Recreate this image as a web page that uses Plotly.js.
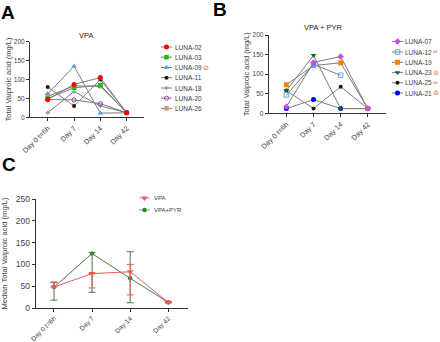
<!DOCTYPE html>
<html><head><meta charset="utf-8">
<script src="https://cdn.plot.ly/plotly-3.0.1.min.js"></script>
<style>html,body{margin:0;padding:0;background:#fff}#c{width:440px;height:342px}</style>
</head><body><div id="c"></div>
<script>
const days = ['Day 0 t=6h','Day 7','Day 14','Day 42'];
const FONT = '"Liberation Sans", Arial, sans-serif';
const W = 440, H = 342;

const namesA = ['LUNA-11','LUNA-18','LUNA-26','LUNA-20','LUNA-09','LUNA-03','LUNA-02'];
const luna11 = [80,30,100,12];
const luna18 = [12,68,30,12];
const luna26 = [55,83,82,12];
const luna20 = [47,46,36,12];
const luna09 = [62,135,11,12];
const luna03 = [50,78,85,12];
const luna02 = [47,87,105,12];

const luna21 = [12,35,12,12];
const luna25 = [58,12,68,12];
const luna23 = [58,148,12,12];
const luna19 = [73,122,129,12];
const luna12 = [47,125,97,null];
const luna07 = [17,130,145,12];

const vpaMedian = [48,79,83,13];
const vpaUp = [12,0,17,1];
const vpaDown = [0,33,53,1];
const pyrMedian = [48,125,68,13];
const pyrUp = [10,2,61,1];
const pyrDown = [30,89,56,1];

const legendA = ['LUNA-02','LUNA-03','LUNA-09','LUNA-11','LUNA-18','LUNA-20','LUNA-26'];
const legendB = ['LUNA-07','LUNA-12','LUNA-19','LUNA-23','LUNA-25','LUNA-21'];
const legendC = ['VPA','VPA+PYR'];

const styles = {
 'LUNA-02':{symbol:'circle',color:'#ff0000',size:5,lw:0},
 'LUNA-03':{symbol:'square',color:'#00c800',size:4.5,lw:0},
 'LUNA-09':{symbol:'triangle-up',color:'#4a9bf0',size:5,lw:0},
 'LUNA-11':{symbol:'circle',color:'#2a1505',size:4,lw:0},
 'LUNA-18':{symbol:'cross',color:'#9a9a9a',size:3.5,lw:0},
 'LUNA-20':{symbol:'hexagon-open',color:'#8e3fb0',size:4.5,lw:1},
 'LUNA-26':{symbol:'square',color:'#c8a070',size:4.5,lw:0},
 'LUNA-07':{symbol:'diamond',color:'#c050e0',size:5,lw:0},
 'LUNA-12':{symbol:'square-open',color:'#5aa5f5',size:4.5,lw:1},
 'LUNA-19':{symbol:'square',color:'#ff8000',size:5,lw:0},
 'LUNA-23':{symbol:'triangle-down',color:'#0a6a1a',size:5,lw:0},
 'LUNA-25':{symbol:'circle',color:'#1a1a00',size:4,lw:0},
 'LUNA-21':{symbol:'circle',color:'#0000ff',size:5,lw:0}
};
const GREY = '#7d7d7d';
function series(name, y, xa, ya){
  const s = styles[name];
  return {type:'scatter',mode:'lines+markers',name:name,x:days,y:y,xaxis:xa,yaxis:ya,showlegend:false,
    connectgaps:false,line:{color:GREY,width:1},
    marker:{symbol:s.symbol,color:s.color,size:s.size,line:{color:s.color,width:s.lw}}};
}
const traces = [];
[luna11,luna18,luna26,luna20,luna09,luna03,luna02].forEach((y,i)=>traces.push(series(namesA[i],y,'x','y')));
[['LUNA-21',luna21],['LUNA-25',luna25],['LUNA-23',luna23],['LUNA-19',luna19],['LUNA-12',luna12],['LUNA-07',luna07]]
  .forEach(p=>traces.push(series(p[0],p[1],'x2','y2')));

function med(name,y,up,down,color,symbol,size){
  return {type:'scatter',mode:'lines+markers',name:name,x:days,y:y,xaxis:'x3',yaxis:'y3',showlegend:false,
    line:{color:color,width:1},marker:{symbol:symbol,color:color,size:size},
    error_y:{type:'data',symmetric:false,array:up,arrayminus:down,color:color,thickness:1,width:3.5}};
}
const PYRC = '#4f7a45', VPAC = '#ee5a5a';
traces.push(med('VPA+PYR',pyrMedian,pyrUp,pyrDown,PYRC,'circle',4.5));
traces.push(med('VPA',vpaMedian,vpaUp,vpaDown,VPAC,'triangle-down',6));

const keyX = {A:[161,172],B:[392,403],C:[139,150]};
const rowA = [47,57.2,67.5,77.7,88,98.2,108.4];
const rowB = [41.5,52,62.3,72.6,82.8,93];
const rowC = [198,210];
const annotations = [];
function key(name,x0,x1,y,lineColor,mk,tx,fs){
  traces.push({type:'scatter',mode:'lines',x:[x0,x1],y:[y,y],xaxis:'x4',yaxis:'y4',showlegend:false,hoverinfo:'skip',
    line:{color:lineColor,width:1}});
  traces.push({type:'scatter',mode:'markers',x:[(x0+x1)/2],y:[y],xaxis:'x4',yaxis:'y4',showlegend:false,hoverinfo:'skip',marker:mk});
  annotations.push({xref:'x4',yref:'y4',x:tx,y:y,text:name,showarrow:false,xanchor:'left',yanchor:'middle',
    borderpad:0,font:{family:FONT,size:fs,color:'#3a3a3a'}});
}
function mk(n){const s=styles[n];return {symbol:s.symbol,color:s.color,size:s.size,line:{color:s.color,width:s.lw}};}
legendA.forEach((n,i)=>key(n,keyX.A[0],keyX.A[1],rowA[i],GREY,mk(n),174,6.5));
legendB.forEach((n,i)=>key(n,keyX.B[0],keyX.B[1],rowB[i],GREY,mk(n),404,6.5));
key(legendC[0],keyX.C[0],keyX.C[1],rowC[0],'#f28a8a',{symbol:'triangle-down',color:VPAC,size:6},153,6);
key(legendC[1],keyX.C[0],keyX.C[1],rowC[1],'#7fa878',{symbol:'circle',color:'#1f8a2a',size:4.5},153,6);

function note(x,y,text,color,size){
  annotations.push({xref:'x4',yref:'y4',x:x,y:y,text:text,showarrow:false,xanchor:'center',yanchor:'middle',
    borderpad:0,font:{family:'"DejaVu Sans",sans-serif',size:size,color:color}});
}
note(205.5,67.5,'⊘','#f06a3a',7);
note(436,72.6,'⊘','#f06a3a',7);
note(436,93,'⊘','#f06a3a',7);
note(436,52,'NS','#f04a5a',3.5);
note(436,82.8,'NS','#f04a5a',3.5);

function label(x,y,text,size,bold,color){
  annotations.push({xref:'x4',yref:'y4',x:x,y:y,text:bold?'<b>'+text+'</b>':text,showarrow:false,xanchor:'center',yanchor:'middle',
    font:{family:FONT,size:size,color:color}});
}
label(8,12,'A',19,true,'#000');
label(220,9,'B',19,true,'#000');
label(9,164.5,'C',19,true,'#000');
label(85.5,35.5,'VPA',7.5,false,'#222');
label(323,27,'VPA + PYR',7.5,false,'#222');

function xa(l,r,lo,hi,anchor,tf){
  return {type:'category',categoryorder:'array',categoryarray:days,domain:[l/W,r/W],range:[lo,hi],anchor:anchor,
    showline:true,linecolor:'#333',linewidth:1,ticks:'outside',ticklen:3,tickwidth:1,tickcolor:'#333',
    tickangle:-45,showgrid:false,zeroline:false,tickfont:{family:FONT,size:tf,color:'#444'},automargin:false};
}
function ya(top,bot,max,dt,anchor,title,tf,so,ts){
  return {domain:[1-bot/H,1-top/H],range:[0,max],dtick:dt,anchor:anchor,tick0:0,
    showline:true,linecolor:'#333',linewidth:1,ticks:'outside',ticklen:3,tickwidth:1,tickcolor:'#333',
    showgrid:false,zeroline:false,tickfont:{family:FONT,size:tf,color:'#444'},automargin:false,
    title:{text:title,font:{family:FONT,size:ts,color:'#444'},standoff:so}};
}
const layout = {
  width:W,height:H,margin:{l:0,r:0,t:0,b:0},paper_bgcolor:'#fff',plot_bgcolor:'rgba(0,0,0,0)',
  showlegend:false,hovermode:false,
  xaxis:xa(30,144,-0.672,3.657,'y',7.2),
  yaxis:ya(41.7,117.3,200,50,'x','Total Valproic acid (mg/L)',6.5,1,7.5),
  xaxis2:xa(268.7,385.7,-0.652,3.66,'y2',7.2),
  yaxis2:ya(35,113.3,200,50,'x2','Total Valproic acid (mg/L)',6.5,1,7.5),
  xaxis3:xa(35.7,188,-0.48,3.517,'y3',6.6),
  yaxis3:ya(199,308,250,50,'x3','Median Total Valproic acid (mg/L)',8.5,7,7.6),
  xaxis4:{domain:[0,1],range:[0,W],visible:false,fixedrange:true,anchor:'y4'},
  yaxis4:{domain:[0,1],range:[H,0],visible:false,fixedrange:true,anchor:'x4'},
  annotations:annotations
};
Plotly.newPlot('c',traces,layout,{displayModeBar:false,staticPlot:true});
</script></body></html>
